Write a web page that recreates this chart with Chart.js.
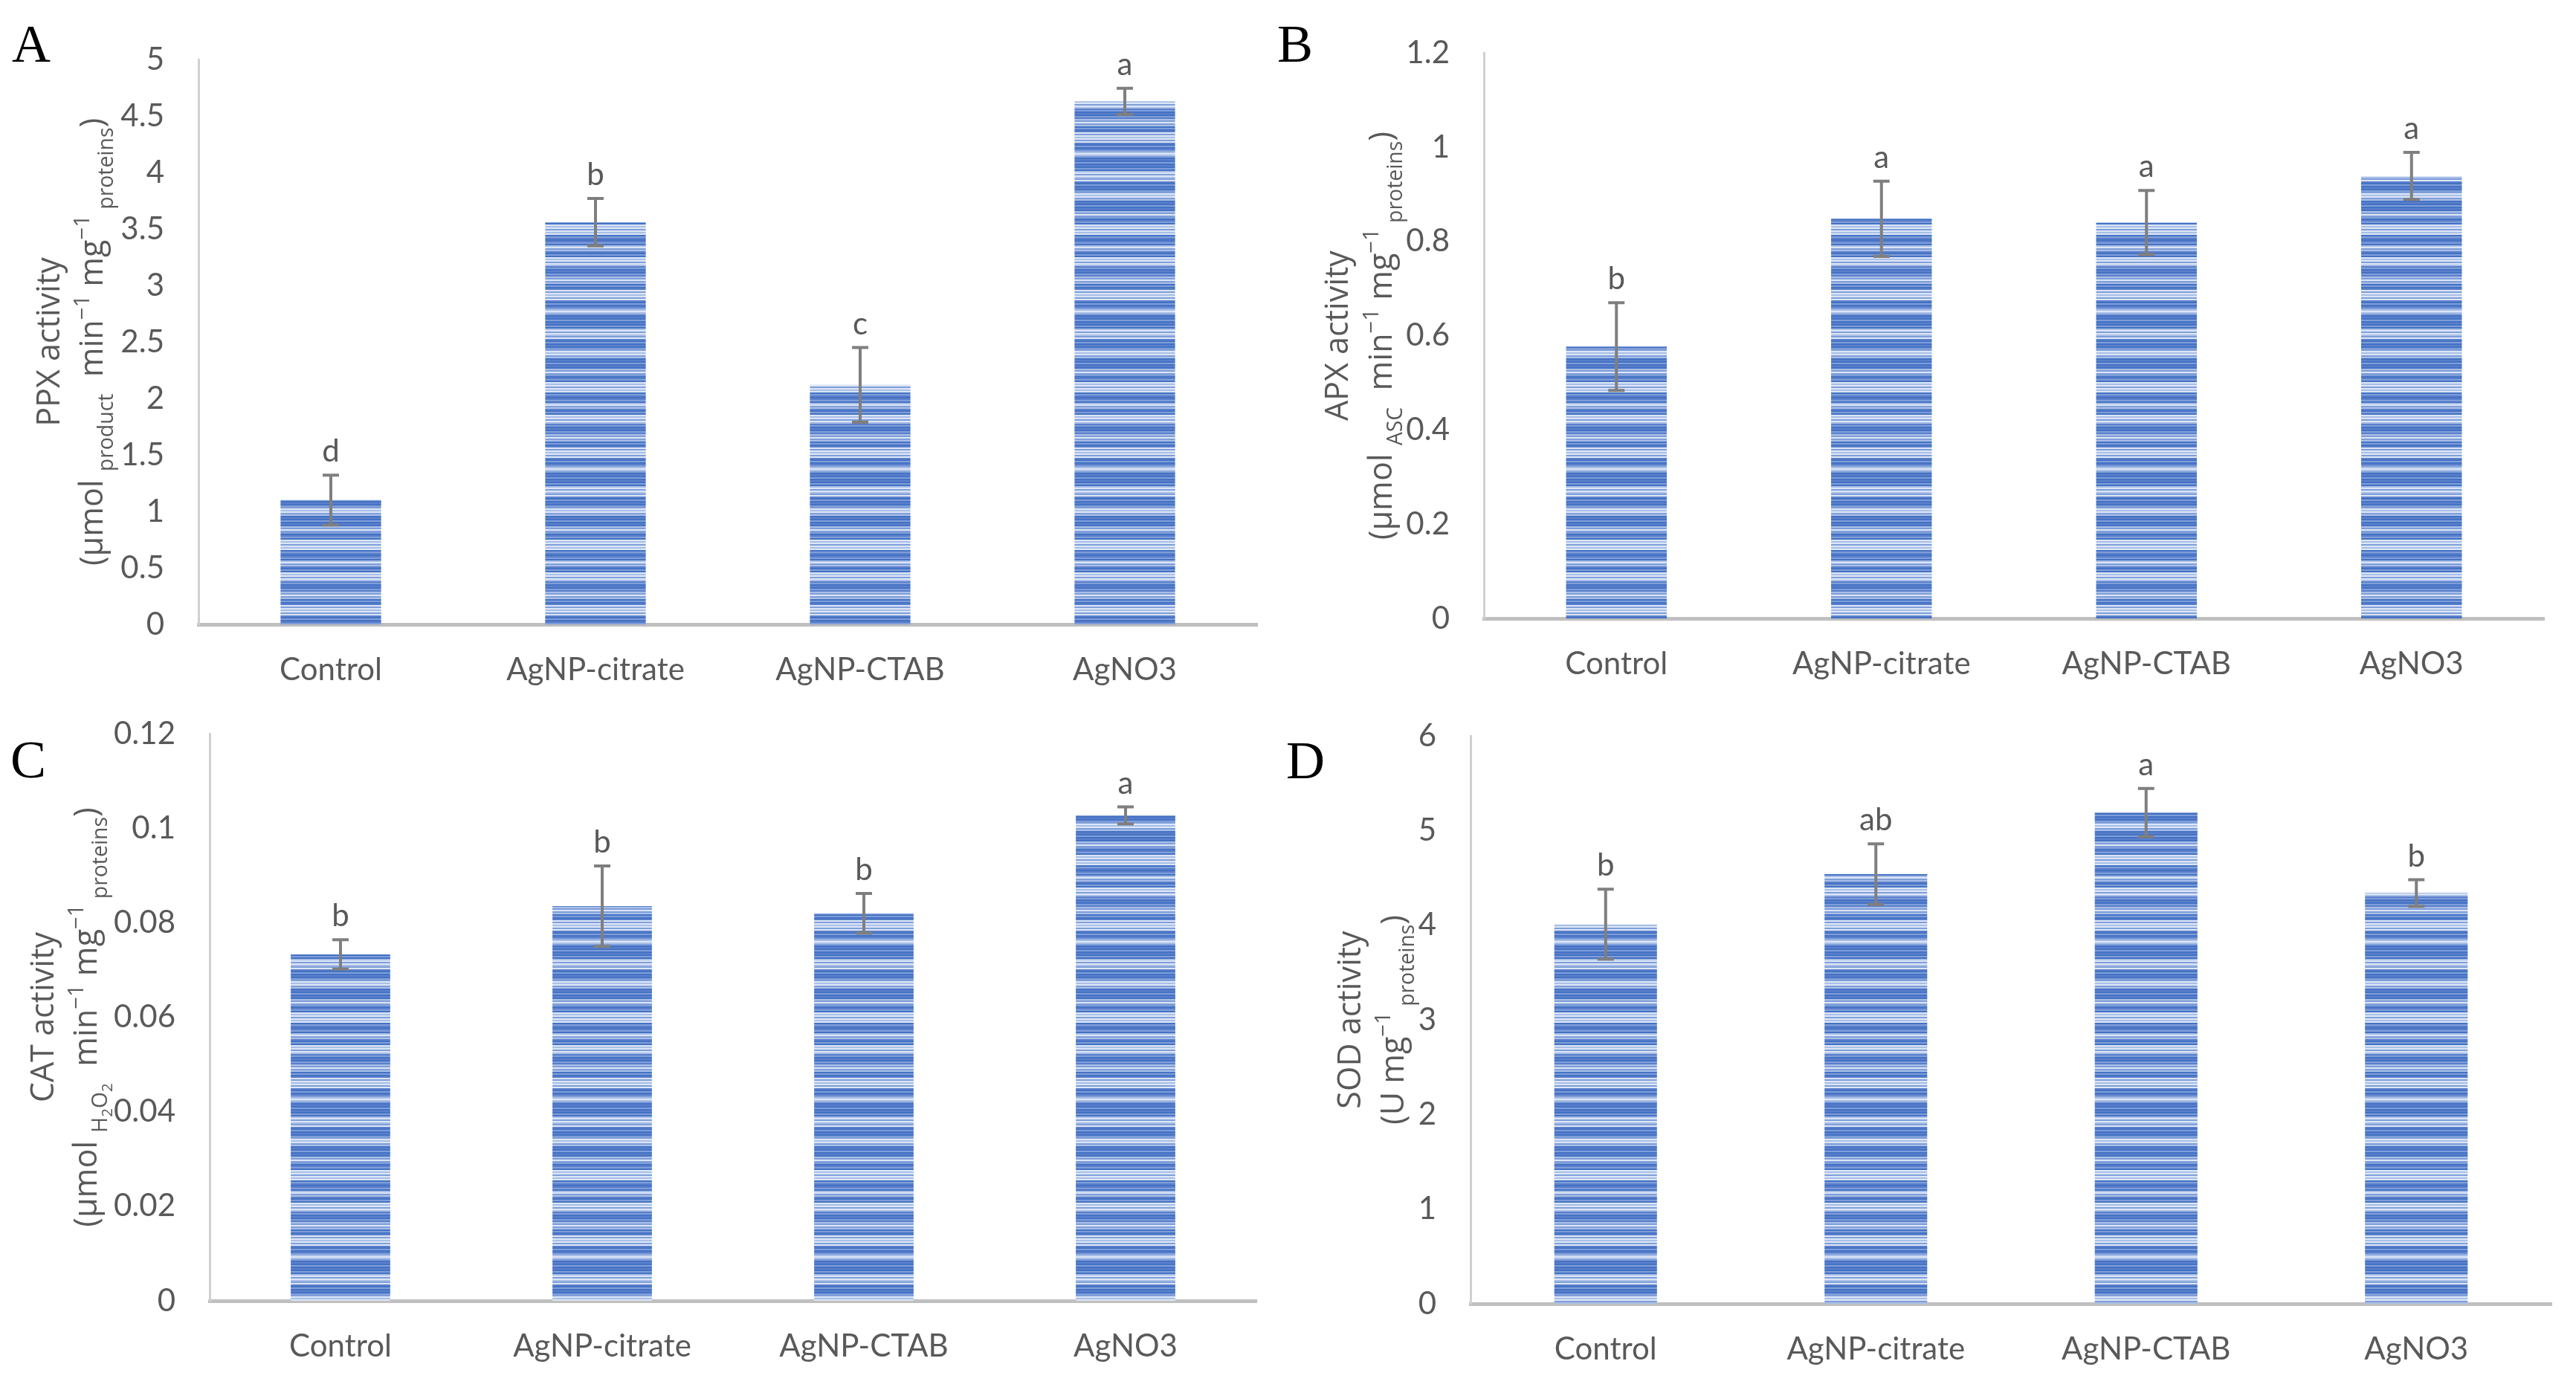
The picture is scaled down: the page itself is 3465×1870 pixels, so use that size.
<!DOCTYPE html>
<html>
<head>
<meta charset="utf-8">
<script src="https://cdn.jsdelivr.net/npm/chart.js@4.4.1/dist/chart.umd.min.js"></script>
<style>
  html, body { margin: 0; padding: 0; background: #fff; }
  body { width: 3465px; height: 1870px; position: relative; overflow: hidden; }
  canvas { position: absolute; left: 0; top: 0; width: 3465px; height: 1870px; }
  .panel { position: absolute; font-family: 'Liberation Serif', 'Times New Roman', serif; font-size: 72px; line-height: 1; color: #000; }
</style>
</head>
<body>
<div class="panel" style="left:16px;top:23px">A</div>
<div class="panel" style="left:1718px;top:23px">B</div>
<div class="panel" style="left:14px;top:986px">C</div>
<div class="panel" style="left:1730px;top:987px">D</div>
<canvas id="chartA" width="3465" height="1870"></canvas>
<canvas id="chartB" width="3465" height="1870"></canvas>
<canvas id="chartC" width="3465" height="1870"></canvas>
<canvas id="chartD" width="3465" height="1870"></canvas>
<script>
const categories = ['Control', 'AgNP-citrate', 'AgNP-CTAB', 'AgNO3'];

// A - PPX
const ppxValues = [1.10, 3.56, 2.12, 4.63];
const ppxErrors = [0.22, 0.21, 0.33, 0.115];
const ppxLetters = ['d', 'b', 'c', 'a'];
const ppxTicks = ['0', '0.5', '1', '1.5', '2', '2.5', '3', '3.5', '4', '4.5', '5'];

// B - APX
const apxValues = [0.577, 0.848, 0.840, 0.939];
const apxErrors = [0.093, 0.080, 0.068, 0.050];
const apxLetters = ['b', 'a', 'a', 'a'];
const apxTicks = ['0', '0.2', '0.4', '0.6', '0.8', '1', '1.2'];

// C - CAT
const catValues = [0.0733, 0.0835, 0.0820, 0.1027];
const catErrors = [0.0031, 0.0085, 0.0042, 0.0018];
const catLetters = ['b', 'b', 'b', 'a'];
const catTicks = ['0', '0.02', '0.04', '0.06', '0.08', '0.1', '0.12'];

// D - SOD
const sodValues = [4.01, 4.54, 5.19, 4.34];
const sodErrors = [0.37, 0.32, 0.255, 0.14];
const sodLetters = ['b', 'ab', 'a', 'b'];
const sodTicks = ['0', '1', '2', '3', '4', '5', '6'];

const W = 3465, H = 1870;
const textGray = '#595959';
const tickFont = { family: 'Lato', size: 42 };

// striped fill like the Excel texture: dark bands and pale bands
function stripePattern() {
    const shades = ['#4472c4', '#5b7fcb', '#7f9ed9', '#a9bfe7', '#dce6f6'];
    const seq = '010201020' + '3424324' + '1020102' + '243423' + '0102010' + '3242' +
                '20120' + '4342434' + '0210120' + '3423' + '1020' + '434243' +
                '1201021' + '32423' + '0201' + '4243424' + '102012' + '3432';
    const rowH = 2;
    const c = document.createElement('canvas');
    c.width = 4;
    c.height = seq.length * rowH;
    const g = c.getContext('2d');
    for (let i = 0; i < seq.length; i++) {
        g.fillStyle = shades[+seq[i]];
        g.fillRect(0, i * rowH, 4, rowH);
    }
    return g.createPattern(c, 'repeat');
}

const sub = { s: 0.66, dy: 0.32 };
const sup = { s: 0.68, dy: -0.42 };
const subsub = { s: 0.48, dy: 0.48 };

function overlay(cfg) {
    return {
        id: 'overlay',
        afterDatasetsDraw(chart) {
            const ctx = chart.ctx;
            const y = chart.scales.y;
            const meta = chart.getDatasetMeta(0);
            ctx.save();
            meta.data.forEach((bar, i) => {
                const v = cfg.values[i], e = cfg.errors[i];
                const top = y.getPixelForValue(v + e);
                const bot = y.getPixelForValue(v - e);
                ctx.strokeStyle = '#7f7f7f';
                ctx.lineWidth = 4;
                ctx.beginPath();
                ctx.moveTo(bar.x, top); ctx.lineTo(bar.x, bot);
                ctx.moveTo(bar.x - 11, top); ctx.lineTo(bar.x + 11, top);
                ctx.moveTo(bar.x - 11, bot); ctx.lineTo(bar.x + 11, bot);
                ctx.stroke();
                ctx.fillStyle = textGray;
                ctx.font = tickFont.size + 'px ' + tickFont.family;
                ctx.textAlign = 'center';
                ctx.textBaseline = 'alphabetic';
                ctx.fillText(cfg.letters[i], bar.x, top - 18);
            });
            ctx.restore();
        },
        afterDraw(chart) {
            const ctx = chart.ctx;
            const area = chart.chartArea;
            const cy = (area.top + area.bottom) / 2;
            const base = 43;
            cfg.title.forEach(line => {
                ctx.save();
                ctx.translate(line.x, cy);
                ctx.rotate(-Math.PI / 2);
                ctx.fillStyle = textGray;
                ctx.textBaseline = 'alphabetic';
                ctx.textAlign = 'left';
                let total = 0;
                const parts = line.runs.map(r => {
                    const size = base * (r.s || 1);
                    ctx.font = size + 'px "Open Sans"';
                    const w = ctx.measureText(r.t).width;
                    total += w;
                    return { r, size, w };
                });
                let x = -total / 2;
                parts.forEach(p => {
                    ctx.font = p.size + 'px "Open Sans"';
                    ctx.fillText(p.r.t, x, (p.r.dy || 0) * base);
                    x += p.w;
                });
                ctx.restore();
            });
        }
    };
}

function makeChart(id, cfg) {
    const xAxisH = 100;
    const a = cfg.area;
    new Chart(document.getElementById(id).getContext('2d'), {
        type: 'bar',
        data: {
            labels: categories,
            datasets: [{
                data: cfg.values,
                backgroundColor: stripePattern(),
                borderWidth: 0,
                barPercentage: 0.38,
                categoryPercentage: 1
            }]
        },
        options: {
            responsive: false,
            animation: false,
            devicePixelRatio: 1,
            layout: { padding: { left: 0, top: a.t, right: W - a.r, bottom: H - a.b - xAxisH } },
            plugins: { legend: { display: false }, tooltip: { enabled: false } },
            scales: {
                x: {
                    z: 1,
                    grid: { display: false, drawTicks: false },
                    border: { display: true, color: '#bfbfbf', width: 5 },
                    ticks: { color: textGray, font: tickFont, padding: 36, maxRotation: 0, autoSkip: false },
                    afterFit(s) { s.height = xAxisH; }
                },
                y: {
                    min: 0,
                    max: cfg.max,
                    grid: { display: false, drawTicks: false },
                    border: { display: true, color: '#d0d0d0', width: 3 },
                    ticks: {
                        stepSize: cfg.step,
                        color: textGray,
                        font: tickFont,
                        padding: 46,
                        callback: (v, i) => cfg.ticks[i] !== undefined ? cfg.ticks[i] : v
                    },
                    afterFit(s) { s.width = a.l; }
                }
            }
        },
        plugins: [overlay(cfg)]
    });
}

makeChart('chartA', {
    values: ppxValues, errors: ppxErrors, letters: ppxLetters, ticks: ppxTicks,
    max: 5, step: 0.5,
    area: { l: 267, r: 1691, t: 80, b: 840 },
    title: [
        { x: 80, runs: [{ t: 'PPX activity' }] },
        { x: 138, runs: [{ t: '(µmol ' }, { t: 'product', ...sub }, { t: '  min' }, { t: '−1', ...sup },
            { t: ' mg' }, { t: '−1', ...sup }, { t: ' proteins', ...sub }, { t: ')' }] }
    ]
});

makeChart('chartB', {
    values: apxValues, errors: apxErrors, letters: apxLetters, ticks: apxTicks,
    max: 1.2, step: 0.2,
    area: { l: 1996, r: 3422, t: 70, b: 832 },
    title: [
        { x: 1813, runs: [{ t: 'APX activity' }] },
        { x: 1872, runs: [{ t: '(µmol ' }, { t: 'ASC', ...sub }, { t: '  min' }, { t: '−1', ...sup },
            { t: ' mg' }, { t: '−1', ...sup }, { t: ' proteins', ...sub }, { t: ')' }] }
    ]
});

makeChart('chartC', {
    values: catValues, errors: catErrors, letters: catLetters, ticks: catTicks,
    max: 0.12, step: 0.02,
    area: { l: 282, r: 1690, t: 987, b: 1750 },
    title: [
        { x: 72, runs: [{ t: 'CAT activity' }] },
        { x: 130, runs: [{ t: '(µmol ' }, { t: 'H', ...sub }, { t: '2', ...subsub }, { t: 'O', ...sub }, { t: '2', ...subsub },
            { t: '  min' }, { t: '−1', ...sup }, { t: ' mg' }, { t: '−1', ...sup }, { t: ' proteins', ...sub }, { t: ')' }] }
    ]
});

makeChart('chartD', {
    values: sodValues, errors: sodErrors, letters: sodLetters, ticks: sodTicks,
    max: 6, step: 1,
    area: { l: 1978, r: 3432, t: 990, b: 1754 },
    title: [
        { x: 1830, runs: [{ t: 'SOD activity' }] },
        { x: 1888, runs: [{ t: '(U mg' }, { t: '−1', ...sup }, { t: ' proteins', ...sub }, { t: ')' }] }
    ]
});
</script>
</body>
</html>
